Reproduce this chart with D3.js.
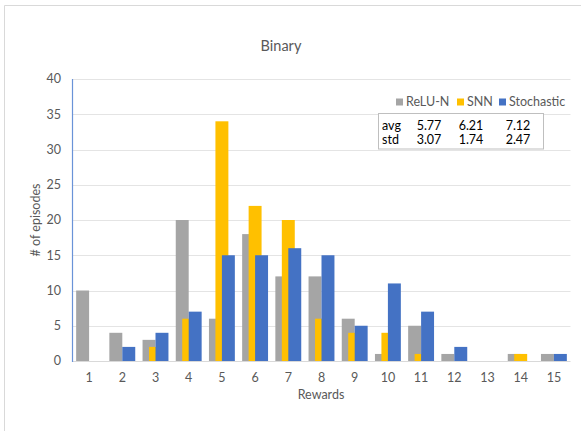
<!DOCTYPE html>
<html>
<head>
<meta charset="utf-8">
<script src="https://cdn.jsdelivr.net/npm/d3@7"></script>
<style>
  html, body { margin: 0; padding: 0; background: #fff; }
  svg { display: block; font-family: Lato, "Open Sans", sans-serif; }
</style>
</head>
<body>
<svg id="chart" width="581" height="431"></svg>
<script>
// Episode reward histogram for the binary task
const rewards = ["1","2","3","4","5","6","7","8","9","10","11","12","13","14","15"];
const seriesNames = ["ReLU-N", "SNN", "Stochastic"];
const reluN      = [10, 4, 3, 20, 6, 18, 12, 12, 6, 1, 5, 1, 0, 1, 1];
const snn        = [0, 0, 2, 6, 34, 22, 20, 6, 4, 4, 1, 0, 0, 1, 0];
const stochastic = [0, 2, 4, 7, 15, 15, 16, 15, 5, 11, 7, 2, 0, 0, 1];
const yTicks = [0, 5, 10, 15, 20, 25, 30, 35, 40];
const statRows = ["avg", "std"];
const avgValues = ["5.77", "6.21", "7.12"];
const stdValues = ["3.07", "1.74", "2.47"];

const colors = ["#A5A5A5", "#FFC000", "#4472C4"];
const seriesValues = [reluN, snn, stochastic];

const svg = d3.select("#chart");
const margin = { left: 72.5, right: 570.5, top: 79, bottom: 361 };

// chart frame (top and left edges)
svg.append("path")
  .attr("d", "M4.5,431 V5.5 H581")
  .attr("fill", "none").attr("stroke", "#d9d9d9").attr("stroke-width", 1);

const x = d3.scaleBand().domain(rewards).range([margin.left, margin.right]).padding(0);
const y = d3.scaleLinear().domain([0, 40]).range([margin.bottom, margin.top]);

// gridlines
svg.append("g").selectAll("line").data(yTicks.filter(d => d > 0)).join("line")
  .attr("x1", margin.left).attr("x2", margin.right)
  .attr("y1", d => Math.round(y(d)) + 0.5).attr("y2", d => Math.round(y(d)) + 0.5)
  .attr("stroke", "#e4e4e4").attr("stroke-width", 1);

// y tick labels
svg.append("g").selectAll("text").data(yTicks).join("text")
  .attr("x", 61).attr("y", d => y(d)).attr("dy", "0.35em")
  .attr("text-anchor", "end").attr("fill", "#595959").attr("font-size", 12.5)
  .text(d => d);

// bars: three overlapping columns per reward value
const bw = x.bandwidth();
const barW = bw * 0.39;
const offsets = [-1, -0.5, 0];
seriesValues.forEach((vals, k) => {
  svg.append("g").selectAll("rect").data(vals).join("rect")
    .attr("x", (d, i) => x(rewards[i]) + bw / 2 + offsets[k] * barW)
    .attr("width", barW)
    .attr("y", d => y(d))
    .attr("height", d => y(0) - y(d))
    .attr("fill", colors[k]);
});

// axes lines
svg.append("line")
  .attr("x1", margin.left).attr("x2", margin.right)
  .attr("y1", margin.bottom + 0.5).attr("y2", margin.bottom + 0.5)
  .attr("stroke", "#d9d9d9");
svg.append("line")
  .attr("x1", margin.left).attr("x2", margin.left)
  .attr("y1", margin.top).attr("y2", margin.bottom + 1)
  .attr("stroke", "#6a93d8").attr("stroke-width", 1.2);

// x tick labels
svg.append("g").selectAll("text").data(rewards).join("text")
  .attr("x", d => x(d) + bw / 2).attr("y", 378).attr("dy", "0.35em")
  .attr("text-anchor", "middle").attr("fill", "#595959").attr("font-size", 12.5)
  .text(d => d);

// axis titles
svg.append("text").attr("x", 321).attr("y", 395).attr("dy", "0.35em")
  .attr("text-anchor", "middle").attr("fill", "#595959").attr("font-size", 12.5)
  .text("Rewards");
svg.append("text")
  .attr("transform", "translate(36," + ((margin.top + margin.bottom) / 2) + ") rotate(-90)")
  .attr("dy", "0.35em").attr("text-anchor", "middle")
  .attr("fill", "#595959").attr("font-size", 12.5)
  .text("# of episodes");

// title
svg.append("text").attr("x", 281).attr("y", 46).attr("dy", "0.35em")
  .attr("text-anchor", "middle").attr("fill", "#595959").attr("font-size", 14.5)
  .text("Binary");

// legend
const legendX = [396, 457, 499];
const legend = svg.append("g");
seriesNames.forEach((name, k) => {
  legend.append("rect").attr("x", legendX[k]).attr("y", 98.5).attr("width", 7).attr("height", 7)
    .attr("fill", colors[k]);
  legend.append("text").attr("x", legendX[k] + 10).attr("y", 102).attr("dy", "0.35em")
    .attr("fill", "#595959").attr("font-size", 12.5).text(name);
});

// summary statistics box
svg.append("rect").attr("x", 378.5).attr("y", 113.5).attr("width", 165).attr("height", 35.5)
  .attr("fill", "#fff").attr("stroke", "#bfbfbf").attr("stroke-width", 1);
const colX = [429, 471, 518];
const rowY = [126, 139.5];
[avgValues, stdValues].forEach((vals, r) => {
  svg.append("text").attr("x", 382).attr("y", rowY[r]).attr("dy", "0.35em")
    .attr("fill", "#000").attr("font-size", 12.5).text(statRows[r]);
  vals.forEach((v, c) => {
    svg.append("text").attr("x", colX[c]).attr("y", rowY[r]).attr("dy", "0.35em")
      .attr("text-anchor", "middle").attr("fill", "#000").attr("font-size", 12.5).text(v);
  });
});
</script>
</body>
</html>
